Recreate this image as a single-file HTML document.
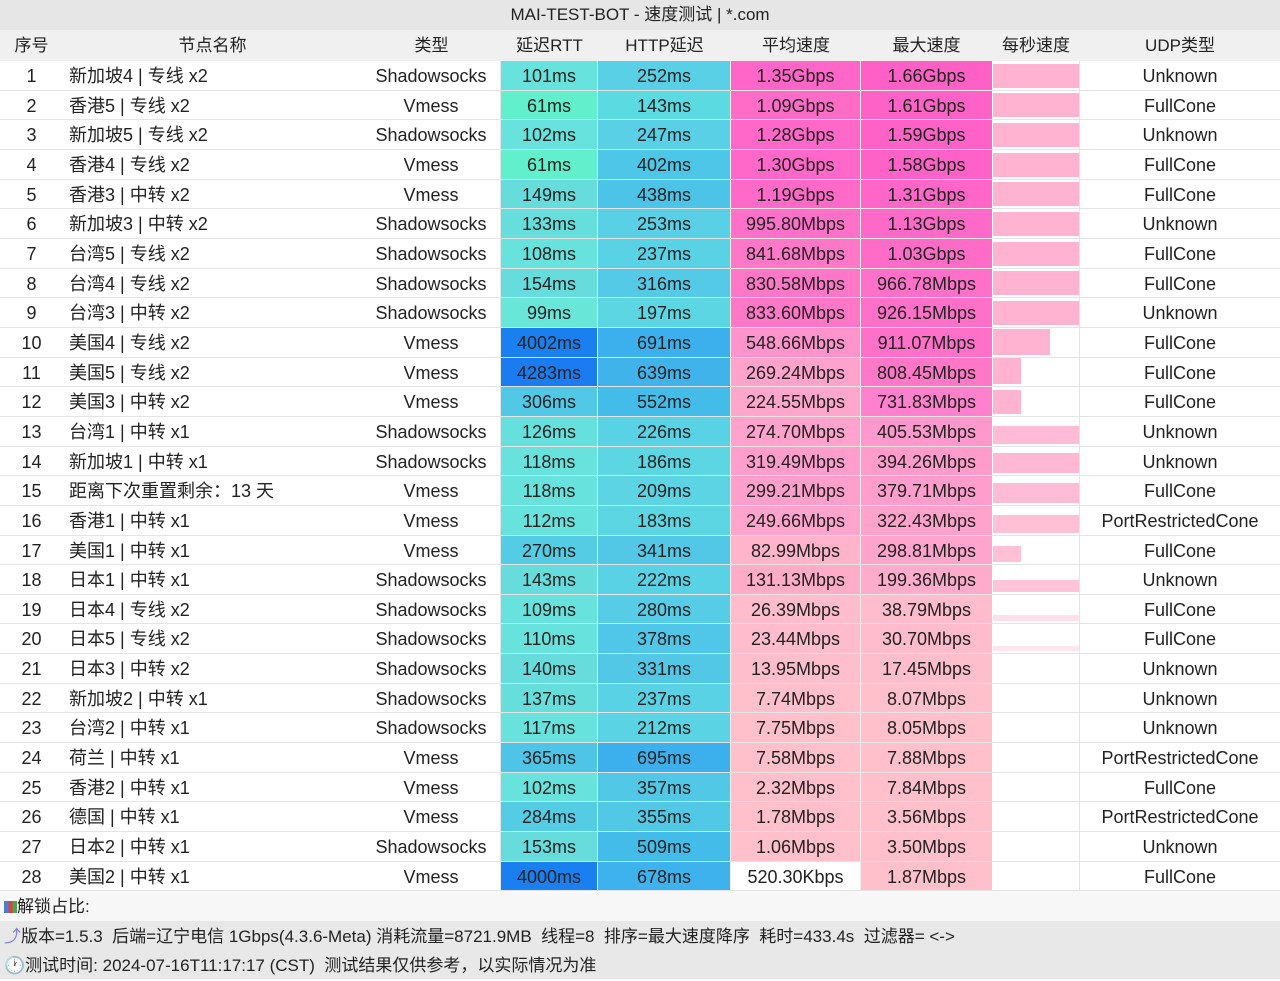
<!DOCTYPE html>
<html><head><meta charset="utf-8"><style>
body{margin:0;width:1280px;height:979px;overflow:hidden;background:#fff;font-family:"Liberation Sans","Noto Sans CJK SC",sans-serif;font-size:18px;color:#222}
.t{height:30px;line-height:30px;background:#e6e6e6;text-align:center;font-size:17px}
.h{height:31px;line-height:32px;background:#f0f0f0;display:flex;font-size:17px}
.r{height:29.67px;line-height:30px;display:flex;border-bottom:1px solid #e4e4e4;box-sizing:border-box}
.r>div,.h>div{text-align:center;box-sizing:border-box;white-space:nowrap;overflow:hidden}
.c0{width:63px}.c1{width:299px;text-align:left!important;padding-left:6px}.c2{width:139px;border-right:1px solid #e4e4e4}.c3{width:97px;border-right:1px solid #eee}.c4{width:133px;border-right:1px solid #eee}.c5{width:130px;border-right:1px solid #eee}.c6{width:131px}.c7{width:88px;position:relative;border-right:1px solid #e4e4e4}.c8{width:200px}
.h .c1{text-align:center!important;padding-left:0}
.h>div{border-right:none!important}
.b{position:absolute;left:1px;bottom:2px;background:#ffb3d1}
.f{height:29px;line-height:31px;padding-left:4px;font-size:17px}
</style></head><body>
<div class="t">MAI-TEST-BOT - 速度测试 | *.com</div>
<div class="h"><div class="c0">序号</div><div class="c1">节点名称</div><div class="c2">类型</div><div class="c3">延迟RTT</div><div class="c4">HTTP延迟</div><div class="c5">平均速度</div><div class="c6">最大速度</div><div class="c7">每秒速度</div><div class="c8">UDP类型</div></div>

<div class="r"><div class="c0">1</div><div class="c1">新加坡4 | 专线 x2</div><div class="c2">Shadowsocks</div><div class="c3" style="background:#68e2dc">101ms</div><div class="c4" style="background:#5ad0e6">252ms</div><div class="c5" style="background:#ff66c8">1.35Gbps</div><div class="c6" style="background:#ff60c6">1.66Gbps</div><div class="c7"><div class="b" style="width:86px;height:24px"></div></div><div class="c8">Unknown</div></div>
<div class="r"><div class="c0">2</div><div class="c1">香港5 | 专线 x2</div><div class="c2">Vmess</div><div class="c3" style="background:#62f0cc">61ms</div><div class="c4" style="background:#5cdae2">143ms</div><div class="c5" style="background:#ff6cc8">1.09Gbps</div><div class="c6" style="background:#ff62c6">1.61Gbps</div><div class="c7"><div class="b" style="width:86px;height:24px"></div></div><div class="c8">FullCone</div></div>
<div class="r"><div class="c0">3</div><div class="c1">新加坡5 | 专线 x2</div><div class="c2">Shadowsocks</div><div class="c3" style="background:#68e2dc">102ms</div><div class="c4" style="background:#5ad0e6">247ms</div><div class="c5" style="background:#ff68c8">1.28Gbps</div><div class="c6" style="background:#ff62c6">1.59Gbps</div><div class="c7"><div class="b" style="width:86px;height:24px"></div></div><div class="c8">Unknown</div></div>
<div class="r"><div class="c0">4</div><div class="c1">香港4 | 专线 x2</div><div class="c2">Vmess</div><div class="c3" style="background:#62f0cc">61ms</div><div class="c4" style="background:#4ec6e8">402ms</div><div class="c5" style="background:#ff68c8">1.30Gbps</div><div class="c6" style="background:#ff62c6">1.58Gbps</div><div class="c7"><div class="b" style="width:86px;height:24px"></div></div><div class="c8">FullCone</div></div>
<div class="r"><div class="c0">5</div><div class="c1">香港3 | 中转 x2</div><div class="c2">Vmess</div><div class="c3" style="background:#66dcdc">149ms</div><div class="c4" style="background:#4cc4e8">438ms</div><div class="c5" style="background:#ff6ac8">1.19Gbps</div><div class="c6" style="background:#ff66c8">1.31Gbps</div><div class="c7"><div class="b" style="width:86px;height:24px"></div></div><div class="c8">FullCone</div></div>
<div class="r"><div class="c0">6</div><div class="c1">新加坡3 | 中转 x2</div><div class="c2">Shadowsocks</div><div class="c3" style="background:#66dedc">133ms</div><div class="c4" style="background:#5ad0e6">253ms</div><div class="c5" style="background:#ff70c8">995.80Mbps</div><div class="c6" style="background:#ff6ac8">1.13Gbps</div><div class="c7"><div class="b" style="width:86px;height:24px"></div></div><div class="c8">Unknown</div></div>
<div class="r"><div class="c0">7</div><div class="c1">台湾5 | 专线 x2</div><div class="c2">Shadowsocks</div><div class="c3" style="background:#68e2dc">108ms</div><div class="c4" style="background:#5ad2e6">237ms</div><div class="c5" style="background:#ff78c8">841.68Mbps</div><div class="c6" style="background:#ff6cc8">1.03Gbps</div><div class="c7"><div class="b" style="width:86px;height:24px"></div></div><div class="c8">FullCone</div></div>
<div class="r"><div class="c0">8</div><div class="c1">台湾4 | 专线 x2</div><div class="c2">Shadowsocks</div><div class="c3" style="background:#66dcdc">154ms</div><div class="c4" style="background:#54cae6">316ms</div><div class="c5" style="background:#ff78c8">830.58Mbps</div><div class="c6" style="background:#ff70c8">966.78Mbps</div><div class="c7"><div class="b" style="width:86px;height:24px"></div></div><div class="c8">FullCone</div></div>
<div class="r"><div class="c0">9</div><div class="c1">台湾3 | 中转 x2</div><div class="c2">Shadowsocks</div><div class="c3" style="background:#68e6d8">99ms</div><div class="c4" style="background:#5cd6e2">197ms</div><div class="c5" style="background:#ff78c8">833.60Mbps</div><div class="c6" style="background:#ff70c8">926.15Mbps</div><div class="c7"><div class="b" style="width:86px;height:24px"></div></div><div class="c8">Unknown</div></div>
<div class="r"><div class="c0">10</div><div class="c1">美国4 | 专线 x2</div><div class="c2">Vmess</div><div class="c3" style="background:#1a80f0">4002ms</div><div class="c4" style="background:#3cb0ec">691ms</div><div class="c5" style="background:#ff94cc">548.66Mbps</div><div class="c6" style="background:#ff70c8">911.07Mbps</div><div class="c7"><div class="b" style="width:57px;height:26px"></div></div><div class="c8">FullCone</div></div>
<div class="r"><div class="c0">11</div><div class="c1">美国5 | 专线 x2</div><div class="c2">Vmess</div><div class="c3" style="background:#1a7cf0">4283ms</div><div class="c4" style="background:#40b4ea">639ms</div><div class="c5" style="background:#ffa2cc">269.24Mbps</div><div class="c6" style="background:#ff78c8">808.45Mbps</div><div class="c7"><div class="b" style="width:28px;height:26px"></div></div><div class="c8">FullCone</div></div>
<div class="r"><div class="c0">12</div><div class="c1">美国3 | 中转 x2</div><div class="c2">Vmess</div><div class="c3" style="background:#50c8e6">306ms</div><div class="c4" style="background:#44bcea">552ms</div><div class="c5" style="background:#ffa6cc">224.55Mbps</div><div class="c6" style="background:#ff80cc">731.83Mbps</div><div class="c7"><div class="b" style="width:28px;height:24px"></div></div><div class="c8">FullCone</div></div>
<div class="r"><div class="c0">13</div><div class="c1">台湾1 | 中转 x1</div><div class="c2">Shadowsocks</div><div class="c3" style="background:#66e0dc">126ms</div><div class="c4" style="background:#5ad2e6">226ms</div><div class="c5" style="background:#ffa2cc">274.70Mbps</div><div class="c6" style="background:#ff98cc">405.53Mbps</div><div class="c7"><div class="b" style="width:86px;height:18px;background:#ffbcd4"></div></div><div class="c8">Unknown</div></div>
<div class="r"><div class="c0">14</div><div class="c1">新加坡1 | 中转 x1</div><div class="c2">Shadowsocks</div><div class="c3" style="background:#68e2dc">118ms</div><div class="c4" style="background:#5cd6e2">186ms</div><div class="c5" style="background:#ff9ecc">319.49Mbps</div><div class="c6" style="background:#ff9ccc">394.26Mbps</div><div class="c7"><div class="b" style="width:86px;height:20px;background:#ffb8d2"></div></div><div class="c8">Unknown</div></div>
<div class="r"><div class="c0">15</div><div class="c1">距离下次重置剩余：13 天</div><div class="c2">Vmess</div><div class="c3" style="background:#68e2dc">118ms</div><div class="c4" style="background:#5cd4e4">209ms</div><div class="c5" style="background:#ffa0cc">299.21Mbps</div><div class="c6" style="background:#ff9ecc">379.71Mbps</div><div class="c7"><div class="b" style="width:86px;height:20px;background:#ffbcd4"></div></div><div class="c8">FullCone</div></div>
<div class="r"><div class="c0">16</div><div class="c1">香港1 | 中转 x1</div><div class="c2">Vmess</div><div class="c3" style="background:#68e2dc">112ms</div><div class="c4" style="background:#5cd6e2">183ms</div><div class="c5" style="background:#ffa4cc">249.66Mbps</div><div class="c6" style="background:#ffa2cc">322.43Mbps</div><div class="c7"><div class="b" style="width:86px;height:18px;background:#ffc0d6"></div></div><div class="c8">PortRestrictedCone</div></div>
<div class="r"><div class="c0">17</div><div class="c1">美国1 | 中转 x1</div><div class="c2">Vmess</div><div class="c3" style="background:#54cce4">270ms</div><div class="c4" style="background:#52c8e6">341ms</div><div class="c5" style="background:#ffb4cc">82.99Mbps</div><div class="c6" style="background:#ffa4cc">298.81Mbps</div><div class="c7"><div class="b" style="width:28px;height:16px;background:#ffc0d6"></div></div><div class="c8">FullCone</div></div>
<div class="r"><div class="c0">18</div><div class="c1">日本1 | 中转 x1</div><div class="c2">Shadowsocks</div><div class="c3" style="background:#66dcdc">143ms</div><div class="c4" style="background:#5ad2e6">222ms</div><div class="c5" style="background:#ffacc8">131.13Mbps</div><div class="c6" style="background:#ffaccc">199.36Mbps</div><div class="c7"><div class="b" style="width:86px;height:12px;background:#ffc4d8"></div></div><div class="c8">Unknown</div></div>
<div class="r"><div class="c0">19</div><div class="c1">日本4 | 专线 x2</div><div class="c2">Shadowsocks</div><div class="c3" style="background:#68e2dc">109ms</div><div class="c4" style="background:#56cce6">280ms</div><div class="c5" style="background:#ffbccc">26.39Mbps</div><div class="c6" style="background:#ffbccc">38.79Mbps</div><div class="c7"><div class="b" style="width:86px;height:6px;background:#ffe0ea"></div></div><div class="c8">FullCone</div></div>
<div class="r"><div class="c0">20</div><div class="c1">日本5 | 专线 x2</div><div class="c2">Shadowsocks</div><div class="c3" style="background:#68e2dc">110ms</div><div class="c4" style="background:#50c6e8">378ms</div><div class="c5" style="background:#ffbccc">23.44Mbps</div><div class="c6" style="background:#ffbccc">30.70Mbps</div><div class="c7"><div class="b" style="width:86px;height:5px;background:#ffe6ee"></div></div><div class="c8">FullCone</div></div>
<div class="r"><div class="c0">21</div><div class="c1">日本3 | 中转 x2</div><div class="c2">Shadowsocks</div><div class="c3" style="background:#66dcdc">140ms</div><div class="c4" style="background:#52c8e6">331ms</div><div class="c5" style="background:#ffbecc">13.95Mbps</div><div class="c6" style="background:#ffbecc">17.45Mbps</div><div class="c7"></div><div class="c8">Unknown</div></div>
<div class="r"><div class="c0">22</div><div class="c1">新加坡2 | 中转 x1</div><div class="c2">Shadowsocks</div><div class="c3" style="background:#66dedc">137ms</div><div class="c4" style="background:#5ad2e6">237ms</div><div class="c5" style="background:#ffc0cc">7.74Mbps</div><div class="c6" style="background:#ffc0cc">8.07Mbps</div><div class="c7"></div><div class="c8">Unknown</div></div>
<div class="r"><div class="c0">23</div><div class="c1">台湾2 | 中转 x1</div><div class="c2">Shadowsocks</div><div class="c3" style="background:#68e2dc">117ms</div><div class="c4" style="background:#5ad4e4">212ms</div><div class="c5" style="background:#ffc0cc">7.75Mbps</div><div class="c6" style="background:#ffc0cc">8.05Mbps</div><div class="c7"></div><div class="c8">Unknown</div></div>
<div class="r"><div class="c0">24</div><div class="c1">荷兰 | 中转 x1</div><div class="c2">Vmess</div><div class="c3" style="background:#4ec4e6">365ms</div><div class="c4" style="background:#3cb0ec">695ms</div><div class="c5" style="background:#ffc0cc">7.58Mbps</div><div class="c6" style="background:#ffc0cc">7.88Mbps</div><div class="c7"></div><div class="c8">PortRestrictedCone</div></div>
<div class="r"><div class="c0">25</div><div class="c1">香港2 | 中转 x1</div><div class="c2">Vmess</div><div class="c3" style="background:#68e2dc">102ms</div><div class="c4" style="background:#50c8e6">357ms</div><div class="c5" style="background:#ffc0cc">2.32Mbps</div><div class="c6" style="background:#ffc0cc">7.84Mbps</div><div class="c7"></div><div class="c8">FullCone</div></div>
<div class="r"><div class="c0">26</div><div class="c1">德国 | 中转 x1</div><div class="c2">Vmess</div><div class="c3" style="background:#54cce4">284ms</div><div class="c4" style="background:#50c8e6">355ms</div><div class="c5" style="background:#ffc0cc">1.78Mbps</div><div class="c6" style="background:#ffc0cc">3.56Mbps</div><div class="c7"></div><div class="c8">PortRestrictedCone</div></div>
<div class="r"><div class="c0">27</div><div class="c1">日本2 | 中转 x1</div><div class="c2">Shadowsocks</div><div class="c3" style="background:#66dcdc">153ms</div><div class="c4" style="background:#44bcea">509ms</div><div class="c5" style="background:#ffc0cc">1.06Mbps</div><div class="c6" style="background:#ffc0cc">3.50Mbps</div><div class="c7"></div><div class="c8">Unknown</div></div>
<div class="r"><div class="c0">28</div><div class="c1">美国2 | 中转 x1</div><div class="c2">Vmess</div><div class="c3" style="background:#1a80f0">4000ms</div><div class="c4" style="background:#3eb2ec">678ms</div><div class="c5">520.30Kbps</div><div class="c6" style="background:#ffc0cc">1.87Mbps</div><div class="c7"></div><div class="c8">FullCone</div></div>

<div class="f" style="background:#f7f7f7;height:30px;line-height:32px"><span style="display:inline-block;width:13px;height:12px;background:linear-gradient(90deg,#4a7fd0 33%,#e04040 33% 66%,#50a050 66%);vertical-align:-1px"></span>解锁占比:</div>
<div class="f" style="background:#e8e8e8"><span style="color:#8080e0">⤴</span>版本=1.5.3&nbsp; 后端=辽宁电信 1Gbps(4.3.6-Meta) 消耗流量=8721.9MB&nbsp; 线程=8&nbsp; 排序=最大速度降序&nbsp; 耗时=433.4s&nbsp; 过滤器= &lt;-&gt;</div>
<div class="f" style="background:#e8e8e8"><span style="color:#888">🕐</span>测试时间: 2024-07-16T11:17:17 (CST)&nbsp; 测试结果仅供参考，以实际情况为准</div>
</body></html>
